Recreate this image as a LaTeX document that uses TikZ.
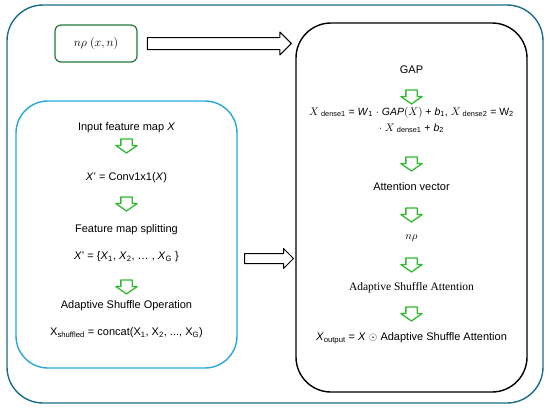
\documentclass[tikz,border=0pt]{standalone}
\usepackage{amsmath,amssymb}
\usepackage{fontspec}
\setmainfont{Liberation Sans}
\newfontfamily\cambfont{Liberation Serif}
\usepackage{tikz}
\usetikzlibrary{arrows,%
                shapes.arrows}

\definecolor{outerblue}{RGB}{27,108,140}
\definecolor{lightblue}{RGB}{38,168,222}
\definecolor{boxgreen}{RGB}{36,120,60}
\definecolor{arrowgreen}{RGB}{48,186,48}

\begin{document}
\begin{tikzpicture}[x=1pt, y=-1pt, line join=round]
    \tikzstyle{lab}=[inner sep=1pt, font=\fontsize{11}{13}\selectfont]
    \tikzstyle{serif}=[inner sep=1pt, font=\cambfont\fontsize{11.5}{13}\selectfont]
    \tikzstyle{down}=[single arrow, draw=arrowgreen, line width=1.3pt, rotate=-90, minimum height=14pt, inner xsep=0pt, inner ysep=5pt, single arrow head extend=5pt, single arrow tip angle=110]
    \tikzstyle{flow}=[single arrow, draw, line width=1pt, single arrow tip angle=90, inner xsep=0pt]

    \useasboundingbox (0,0) rectangle (550,410);
    \draw[outerblue, line width=1.4pt, rounded corners=36pt] (7,5) rectangle (543,403);

    \node[draw=boxgreen, line width=1.2pt, rounded corners=6pt, minimum width=82pt, minimum height=37pt] (np) at (96,43.5) {\fontsize{11.5}{13}\selectfont$n\rho\ (x, n)$};
    \node[draw=lightblue, line width=1.4pt, rounded corners=32pt, minimum width=221pt, minimum height=267pt] (grp) at (126.5,234.5) {};
    \node[draw, line width=1.4pt, rounded corners=35pt, minimum width=231pt, minimum height=369pt] (att) at (411.5,207.5) {};

    \path (np.east) -- (att.west |- np.east) node[midway, flow, minimum height=144pt, inner ysep=5.5pt, single arrow head extend=5.5pt] (f1) {};
    \path (grp.east |- 0,258.5) -- (att.west |- 0,258.5) node[midway, flow, minimum height=49pt, inner ysep=4.5pt, single arrow head extend=5pt] (f2) {};

    \node[lab] (in) at (126.5,128) {Input feature map \textit{X}};
    \node[down] (d1) at (126.5,144) {};
    \node[lab] (conv) at (126.5,178) {\textit{X}' = Conv1x1(\textit{X})};
    \node[down] (d2) at (126.5,202) {};
    \node[lab] (split) at (126.5,230) {Feature map splitting};
    \node[lab] (set) at (126.5,257) {\textit{X}' = \{\textit{X}\textsubscript{1}, \textit{X}\textsubscript{2}, \dots\ , \textit{X}\textsubscript{G} \}};
    \node[down] (d3) at (126.5,285) {};
    \node[lab] (op) at (126.5,306) {Adaptive Shuffle Operation};
    \node[lab] (shuf) at (126.5,333) {X\textsubscript{shuffled} = concat(X\textsubscript{1}, X\textsubscript{2}, ..., X\textsubscript{G})};

    \node[lab] (gap) at (411.5,70) {GAP};
    \node[down] (e1) at (411.5,95) {};
    \node[lab, font=\fontsize{10.5}{12.5}\selectfont, align=center] (dense) at (411.5,120) {$X$\textsubscript{ dense1} = \textit{W}\textsubscript{1} $\cdot$ $\mathit{GAP}(X)$ + \textit{b}\textsubscript{1}, $X$\textsubscript{ dense2} = W\textsubscript{2}\\[3.5pt] $\cdot$ $X$\textsubscript{ dense1} + \textit{b}\textsubscript{2}};
    \node[down] (e2) at (411.5,162) {};
    \node[lab] (vec) at (411.5,187) {Attention vector};
    \node[down] (e3) at (411.5,213) {};
    \node[lab] (nr) at (411.5,238) {$n\rho$};
    \node[down] (e4) at (411.5,263) {};
    \node[serif] (asa) at (411.5,288) {Adaptive Shuffle Attention};
    \node[down] (e5) at (411.5,312) {};
    \node[lab] (out) at (411.5,338) {\textit{X}\textsubscript{output} = \textit{X} $\odot$ Adaptive Shuffle Attention};
\end{tikzpicture}
\end{document}
